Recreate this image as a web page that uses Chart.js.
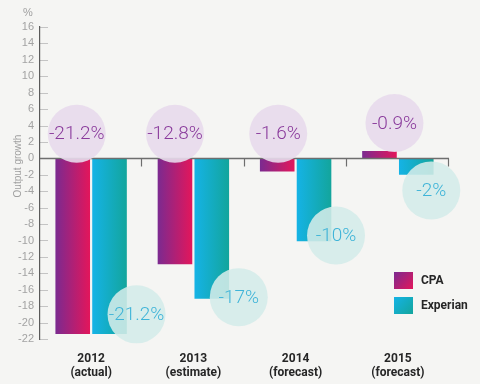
<!DOCTYPE html>
<html>
<head>
<meta charset="utf-8">
<script src="https://cdn.jsdelivr.net/npm/chart.js@4/dist/chart.umd.min.js"></script>
<style>
  html, body { margin: 0; padding: 0; background: #f5f5f3; }
  #wrap { width: 480px; height: 384px; }
</style>
</head>
<body>
<div id="wrap"><canvas id="chart" width="480" height="384"></canvas></div>
<script>
// chart values
const categories = [["2012", "(actual)"], ["2013", "(estimate)"], ["2014", "(forecast)"], ["2015", "(forecast)"]];
const cpaValues = [-21.4, -12.9, -1.6, 0.9];
const experianValues = [-21.4, -17.1, -10.1, -2];
const cpaLabels = ["-21.2%", "-12.8%", "-1.6%", "-0.9%"];
const experianLabels = ["-21.2%", "-17%", "-10%", "-2%"];
const yTicks = [-22, -20, -18, -16, -14, -12, -10, -8, -6, -4, -2, 0, 2, 4, 6, 8, 10, 12, 14, 16];

// where the bubbles sit: value on the y scale, pixel shift from bar centre
const cpaBubbleY = [3.0, 3.0, 3.0, 4.3];
const cpaBubbleDx = [4, 0, 1, 15];
const expBubbleY = [-19.0, -16.9, -9.4, -3.9];
const expBubbleDx = [27, 27, 22, 15];

const CAT_PCT = 0.72;
const BAR_PCT = 0.94;

function barGradient(ctx, dsIndex, from, to) {
    const chart = ctx.chart;
    const area = chart.chartArea;
    if (!area) return from;
    const x = chart.scales.x;
    const catW = (area.right - area.left) / categories.length;
    const slot = catW * CAT_PCT / 2;
    const centre = x.getPixelForValue(ctx.dataIndex) + (dsIndex === 0 ? -slot / 2 : slot / 2);
    const w = slot * BAR_PCT;
    const g = chart.ctx.createLinearGradient(centre - w / 2, 0, centre + w / 2, 0);
    g.addColorStop(0, from);
    g.addColorStop(1, to);
    return g;
}

function barCentre(chart, dsIndex, i) {
    const meta = chart.getDatasetMeta(dsIndex);
    return meta.data[i].x;
}

const decorPlugin = {
    id: "decor",
    beforeDraw(chart) {
        const { ctx, chartArea: a, scales: { y } } = chart;
        ctx.save();
        // short inward ticks on the y axis
        ctx.strokeStyle = "#c4c4c4";
        ctx.lineWidth = 1;
        yTicks.forEach((v) => {
            const py = Math.round(y.getPixelForValue(v)) + 0.5;
            ctx.beginPath();
            ctx.moveTo(a.left, py);
            ctx.lineTo(a.left + 8, py);
            ctx.stroke();
        });
        // % and axis name
        ctx.fillStyle = "#a0a0a0";
        ctx.font = "11px 'Liberation Sans', sans-serif";
        ctx.textAlign = "center";
        ctx.textBaseline = "middle";
        ctx.fillText("%", 28, 13);
        ctx.translate(18, 166);
        ctx.rotate(-Math.PI / 2);
        ctx.font = "10px 'Liberation Sans', sans-serif";
        ctx.fillText("Output growth", 0, 0);
        ctx.restore();
    },
    afterDatasetsDraw(chart) {
        const { ctx, chartArea: a, scales: { x, y } } = chart;
        ctx.save();
        // zero line with category dividers
        const zy = Math.round(y.getPixelForValue(0)) + 0.5;
        ctx.strokeStyle = "#6e6e6e";
        ctx.lineWidth = 1.5;
        ctx.beginPath();
        ctx.moveTo(a.left, zy);
        ctx.lineTo(a.right, zy);
        ctx.stroke();
        const catW = (a.right - a.left) / categories.length;
        ctx.lineWidth = 1.2;
        for (let i = 1; i <= categories.length; i++) {
            const px = Math.round(a.left + catW * i) - 0.5;
            ctx.beginPath();
            ctx.moveTo(px, zy);
            ctx.lineTo(px, zy + 8);
            ctx.stroke();
        }

        // bubbles
        const r = 29;
        const drawBubble = (cx, cy, fill, color, text) => {
            ctx.fillStyle = fill;
            ctx.beginPath();
            ctx.arc(cx, cy, r, 0, Math.PI * 2);
            ctx.fill();
            ctx.fillStyle = color;
            ctx.font = "300 19px Roboto, 'Liberation Sans', sans-serif";
            ctx.textAlign = "center";
            ctx.textBaseline = "middle";
            ctx.fillText(text, cx, cy + 1);
        };
        cpaLabels.forEach((t, i) => {
            drawBubble(barCentre(chart, 0, i) + cpaBubbleDx[i], y.getPixelForValue(cpaBubbleY[i]),
                "rgba(232, 218, 236, 0.9)", "#8a3b9c", t);
        });
        experianLabels.forEach((t, i) => {
            drawBubble(barCentre(chart, 1, i) + expBubbleDx[i], y.getPixelForValue(expBubbleY[i]),
                "rgba(212, 236, 233, 0.88)", "#3fb4d8", t);
        });

        // legend
        const lx = 394;
        const items = [
            { label: "CPA", from: "#7b2a90", to: "#e3165b", top: 272 },
            { label: "Experian", from: "#15b3e6", to: "#13a59c", top: 297 },
        ];
        items.forEach((it) => {
            const g = ctx.createLinearGradient(lx, it.top, lx + 19, it.top + 17);
            g.addColorStop(0, it.from);
            g.addColorStop(1, it.to);
            ctx.fillStyle = g;
            ctx.fillRect(lx, it.top, 19, 17);
            ctx.fillStyle = "#262626";
            ctx.font = "bold 12px Roboto, 'Liberation Sans', sans-serif";
            ctx.textAlign = "left";
            ctx.textBaseline = "middle";
            ctx.fillText(it.label, lx + 27, it.top + 9);
        });
        ctx.restore();
    },
};

new Chart(document.getElementById("chart"), {
    type: "bar",
    data: {
        labels: categories,
        datasets: [
            {
                label: "CPA",
                data: cpaValues,
                backgroundColor: (ctx) => barGradient(ctx, 0, "#7b2a90", "#e3165b"),
                categoryPercentage: CAT_PCT,
                barPercentage: BAR_PCT,
            },
            {
                label: "Experian",
                data: experianValues,
                backgroundColor: (ctx) => barGradient(ctx, 1, "#15b3e6", "#13a59c"),
                categoryPercentage: CAT_PCT,
                barPercentage: BAR_PCT,
            },
        ],
    },
    options: {
        responsive: false,
        animation: false,
        layout: { padding: { top: 27, right: 31, left: 0, bottom: 0 } },
        plugins: {
            legend: { display: false },
            tooltip: { enabled: false },
        },
        scales: {
            x: {
                grid: { display: false, drawTicks: false },
                border: { display: false },
                ticks: {
                    color: "#262626",
                    font: { family: "Roboto, 'Liberation Sans', sans-serif", size: 12, weight: "bold", lineHeight: 1.15 },
                    padding: 13,
                    maxRotation: 0,
                    autoSkip: false,
                },
                afterFit: (s) => { s.height = 45; },
            },
            y: {
                min: -22,
                max: 16,
                afterBuildTicks: (s) => { s.ticks = yTicks.map((v) => ({ value: v })); },
                grid: { display: false, drawTicks: false },
                border: { display: true, color: "#5a5a5a", width: 1.2 },
                ticks: {
                    color: "#a3a3a3",
                    font: { family: "'Liberation Sans', sans-serif", size: 11 },
                    padding: 6,
                },
                afterFit: (s) => { s.width = 40; },
            },
        },
    },
    plugins: [decorPlugin],
});
</script>
</body>
</html>
